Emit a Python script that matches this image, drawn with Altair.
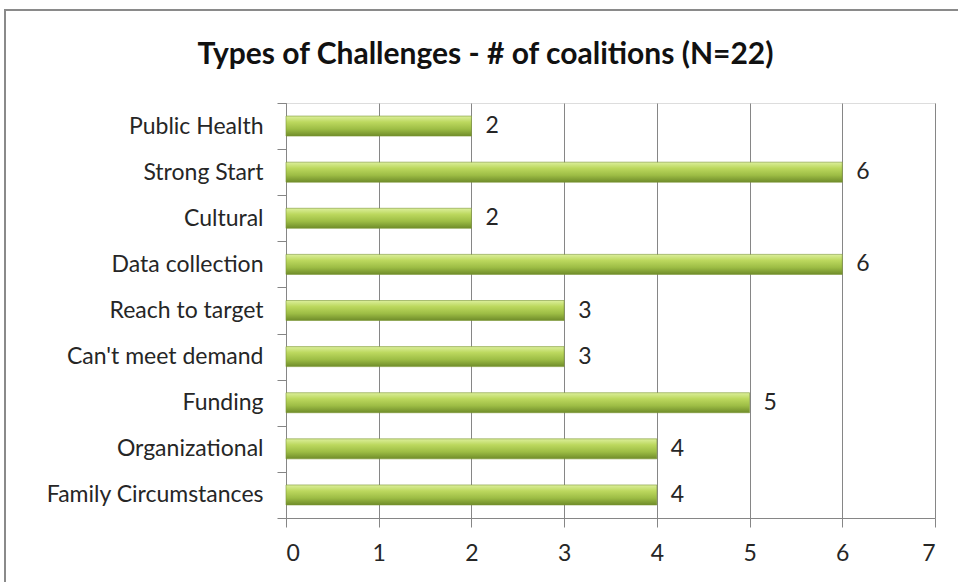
import altair as alt
import pandas as pd

categories = ["Public Health", "Strong Start", "Cultural", "Data collection",
              "Reach to target", "Can't meet demand", "Funding",
              "Organizational", "Family Circumstances"]
values = [2, 6, 2, 6, 3, 3, 5, 4, 4]
x_ticks = [0, 1, 2, 3, 4, 5, 6, 7]

df = pd.DataFrame({"category": categories, "value": values})

FONT = "Lato"
TXT = "#262626"
W, H = 649, 415
PAD_L, PAD_T = 286, 103

y_enc = alt.Y("category:N", sort=categories, title=None,
              scale=alt.Scale(paddingInner=0, paddingOuter=0),
              axis=alt.Axis(tickBand="extent", labelFont=FONT, labelFontSize=23,
                            labelColor=TXT, labelPadding=14, tickSize=9,
                            labelLimit=320,
                            tickColor="#868686", domainColor="#868686",
                            grid=False))
x_enc = alt.X("value:Q", title=None,
              scale=alt.Scale(domain=[0, 7], nice=False),
              axis=alt.Axis(values=x_ticks, labelFont=FONT, labelFontSize=23,
                            labelColor=TXT, labelPadding=15, tickSize=9,
                            tickColor="#868686", domainColor="#868686",
                            gridColor="#868686", gridWidth=1, format="d"))

grad = alt.Gradient(
    gradient="linear", x1=0, x2=0, y1=0, y2=1,
    stops=[alt.GradientStop(offset=0, color="#dcef9c"),
           alt.GradientStop(offset=0.3, color="#bcd85e"),
           alt.GradientStop(offset=0.65, color="#9dbd45"),
           alt.GradientStop(offset=1, color="#6f8c2a")])

bars = alt.Chart(df).mark_bar(size=20, color=grad, stroke="#7a9632",
                              strokeWidth=0.6).encode(y=y_enc, x=x_enc)

labels = alt.Chart(df).mark_text(align="left", dx=14, font=FONT, fontSize=23,
                                 color=TXT).encode(
    y=alt.Y("category:N", sort=categories),
    x="value:Q", text="value:Q")

border = alt.Chart(df).mark_rect(fill=None, stroke="#8a8a8a", strokeWidth=1.5,
                                 clip=False).encode(
    x=alt.value(5 - PAD_L), x2=alt.value(1000 - PAD_L),
    y=alt.value(10 - PAD_T), y2=alt.value(700 - PAD_T))

chart = alt.layer(border, bars, labels).properties(
    width=W, height=H,
    title=alt.TitleParams("Types of Challenges - # of coalitions (N=22)",
                          font=FONT, fontSize=30, fontWeight="bold",
                          color="#111111", anchor="middle", dx=-125,
                          offset=0, dy=61),
    autosize=alt.AutoSizeParams(type="none"),
    padding={"left": PAD_L, "top": PAD_T, "right": 958 - PAD_L - W,
             "bottom": 582 - PAD_T - H},
).configure_view(stroke=None).configure(background="white")

chart.save("out.html", embed_options={"renderer": "svg", "actions": False})
